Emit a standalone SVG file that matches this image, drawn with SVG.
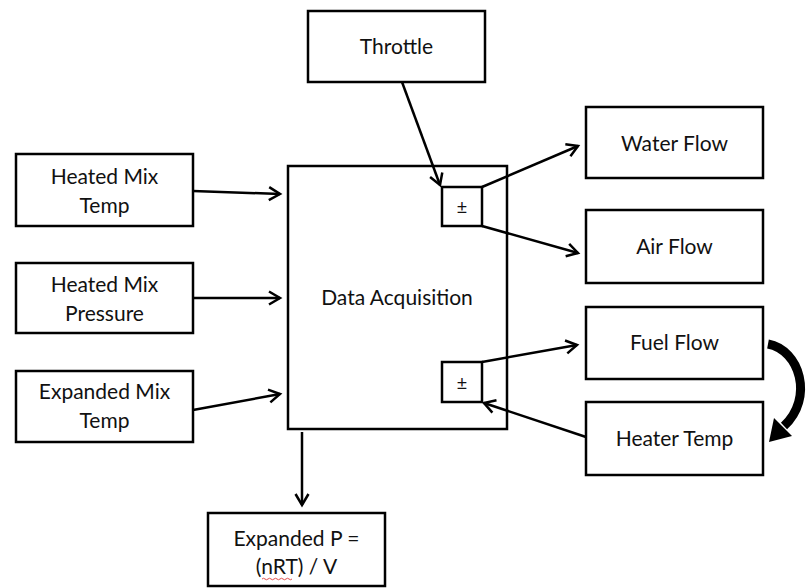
<svg xmlns="http://www.w3.org/2000/svg" width="807" height="588" viewBox="0 0 807 588">
<style>
.box{fill:#fff;stroke:#000;stroke-width:2.5}
.t{font-family:Lato,"Open Sans","Liberation Sans",sans-serif;font-size:21px;fill:#111;text-anchor:middle}
.pm{font-family:"Liberation Sans",Arial,sans-serif;font-size:18px;fill:#111;text-anchor:middle}
.c{fill:none;stroke:#000;stroke-width:2.5}
</style>
<defs>
<marker id="ah" markerUnits="userSpaceOnUse" markerWidth="20" markerHeight="20" viewBox="-14 -10 20 20" refX="0" refY="0" orient="auto">
<path d="M-11,-6.5 L0,0 L-11,6.5" fill="none" stroke="#000" stroke-width="2.5" stroke-linejoin="miter"/>
</marker>
</defs>
<rect width="807" height="588" fill="#fff"/>
<g id="throttle"><rect class="box" x="308" y="11" width="177" height="71"/><text class="t" x="396.5" y="54">Throttle</text></g>
<g id="data-acquisition"><rect class="box" x="288" y="166" width="219" height="263"/><text class="t" x="397" y="305">Data Acquisition</text></g>
<g id="pm-upper"><rect class="box" x="442" y="187" width="40" height="39"/><text class="pm" x="462" y="213">±</text></g>
<g id="pm-lower"><rect class="box" x="442" y="362" width="40" height="40"/><text class="pm" x="462" y="389">±</text></g>
<g id="heated-mix-temp"><rect class="box" x="16" y="154" width="177" height="72"/><text class="t" x="104.5" y="184">Heated Mix</text><text class="t" x="104.5" y="213">Temp</text></g>
<g id="heated-mix-pressure"><rect class="box" x="16" y="263" width="177" height="70"/><text class="t" x="104.5" y="292">Heated Mix</text><text class="t" x="104.5" y="321">Pressure</text></g>
<g id="expanded-mix-temp"><rect class="box" x="16" y="371" width="177" height="71"/><text class="t" x="104.5" y="399">Expanded Mix</text><text class="t" x="104.5" y="428">Temp</text></g>
<g id="water-flow"><rect class="box" x="586" y="107" width="177" height="71"/><text class="t" x="674.5" y="151">Water Flow</text></g>
<g id="air-flow"><rect class="box" x="586" y="210" width="177" height="73"/><text class="t" x="674.5" y="254">Air Flow</text></g>
<g id="fuel-flow"><rect class="box" x="586" y="307" width="177" height="72"/><text class="t" x="674.5" y="350">Fuel Flow</text></g>
<g id="heater-temp"><rect class="box" x="586" y="402" width="177" height="73"/><text class="t" x="674.5" y="446">Heater Temp</text></g>
<g id="expanded-p"><rect class="box" x="208" y="513" width="177" height="73"/><text class="t" x="296.5" y="546">Expanded P =</text><text class="t" x="296.5" y="574">(nRT) / V</text>
<path d="M262,579 q1.5,-1.5 3,0 t3,0 t3,0 t3,0 t3,0 t3,0 t3,0 t3,0 t3,0 t3,0" fill="none" stroke="#e05050" stroke-width="1"/></g>
<g id="connectors">
<path class="c" d="M402,82 L440,185" marker-end="url(#ah)"/>
<path class="c" d="M193,191 L280,194" marker-end="url(#ah)"/>
<path class="c" d="M193,298 L280,298" marker-end="url(#ah)"/>
<path class="c" d="M193,410 L280,394" marker-end="url(#ah)"/>
<path class="c" d="M482,187 L578,146" marker-end="url(#ah)"/>
<path class="c" d="M482,226 L578,253" marker-end="url(#ah)"/>
<path class="c" d="M482,362 L577,345" marker-end="url(#ah)"/>
<path class="c" d="M586,437 L484,403" marker-end="url(#ah)"/>
<path class="c" d="M302,432 L302,505" marker-end="url(#ah)"/>
<path d="M768,344 C800,350 814,398 784,426" fill="none" stroke="#000" stroke-width="9"/>
<polygon points="769,442 774,418 792,436" fill="#000"/>
</g>
</svg>
